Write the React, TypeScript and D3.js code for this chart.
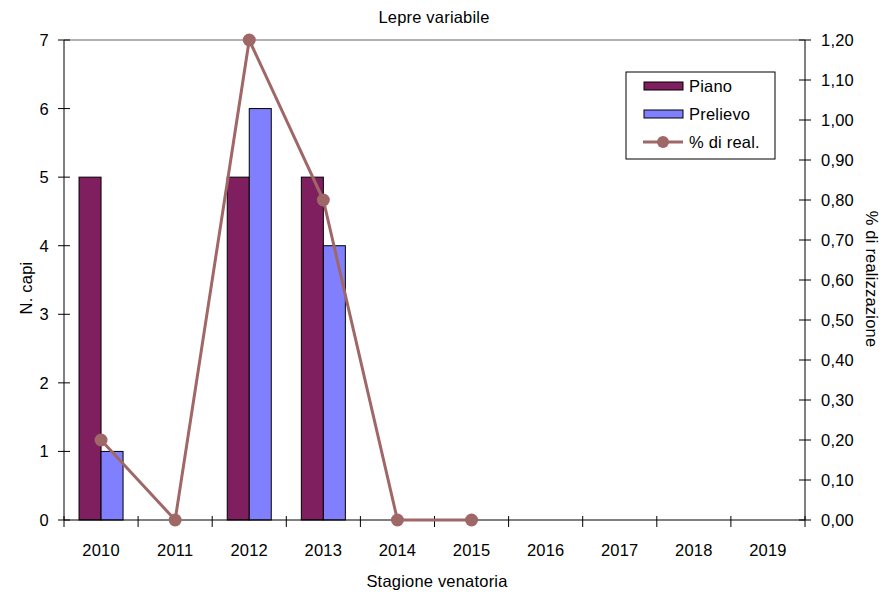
import React from "react";
import * as d3 from "d3";

const categories = ["2010", "2011", "2012", "2013", "2014", "2015", "2016", "2017", "2018", "2019"];
const piano: (number | null)[] = [5, 0, 5, 5, 0, 0, null, null, null, null];
const prelievo: (number | null)[] = [1, 0, 6, 4, 0, 0, null, null, null, null];
const realizzazione: (number | null)[] = [0.2, 0, 1.2, 0.8, 0, 0, null, null, null, null];
const leftTicks = [0, 1, 2, 3, 4, 5, 6, 7];
const rightTicks = [0, 0.1, 0.2, 0.3, 0.4, 0.5, 0.6, 0.7, 0.8, 0.9, 1.0, 1.1, 1.2];

const W = 892, H = 592;
const L = 64, R = 805, T = 40, B = 520;
const FONT = "'Liberation Sans', Arial, sans-serif";
const FS = 16.5;

export default function App() {
  const x = d3.scaleBand<string>().domain(categories).range([L, R]);
  const step = x.bandwidth();
  const barW = step * 0.297;
  const yL = d3.scaleLinear().domain([0, 7]).range([B, T]);
  const yR = d3.scaleLinear().domain([0, 1.2]).range([B, T]);
  const cx = (c: string) => (x(c) as number) + step / 2;

  const pts = categories
    .map((c, i) => ({ c, v: realizzazione[i] }))
    .filter((d) => d.v !== null) as { c: string; v: number }[];
  const line = d3
    .line<{ c: string; v: number }>()
    .x((d) => cx(d.c))
    .y((d) => yR(d.v));

  const lineColor = "#a06767";
  const pianoColor = "#801f5f";
  const prelColor = "#8080ff";

  return (
    <svg width={W} height={H} style={{ position: "absolute", left: 0, top: 0 }} fontFamily={FONT} letterSpacing={0.2}>
      <rect x={0} y={0} width={W} height={H} fill="#fff" />
      <text x={434} y={23} textAnchor="middle" fontSize={FS}>Lepre variabile</text>
      {/* top gridline */}
      <line x1={L} x2={R} y1={T} y2={T} stroke="#999" strokeWidth={1.5} />
      {/* bars */}
      {categories.map((c, i) => {
        const p = piano[i];
        const q = prelievo[i];
        const c0 = cx(c);
        return (
          <g key={c}>
            {p !== null && p > 0 && (
              <rect x={c0 - barW} y={yL(p)} width={barW} height={yL(0) - yL(p)} fill={pianoColor} stroke="#000" strokeWidth={1} />
            )}
            {q !== null && q > 0 && (
              <rect x={c0} y={yL(q)} width={barW} height={yL(0) - yL(q)} fill={prelColor} stroke="#000" strokeWidth={1} />
            )}
          </g>
        );
      })}
      {/* axes */}
      <line x1={L} x2={L} y1={T} y2={B} stroke="#000" strokeWidth={1} />
      <line x1={R} x2={R} y1={T} y2={B} stroke="#000" strokeWidth={1} />
      <line x1={L} x2={R} y1={B} y2={B} stroke="#000" strokeWidth={1} />
      {leftTicks.map((t) => (
        <g key={"l" + t}>
          <line x1={L - 6} x2={L + 6} y1={yL(t)} y2={yL(t)} stroke="#000" />
          <text x={49} y={yL(t) + 6} textAnchor="end" fontSize={FS}>{t}</text>
        </g>
      ))}
      {rightTicks.map((t) => (
        <g key={"r" + t}>
          <line x1={R - 6} x2={R + 6} y1={yR(t)} y2={yR(t)} stroke="#000" />
          <text x={821} y={yR(t) + 6} textAnchor="start" fontSize={FS}>{t.toFixed(2).replace(".", ",")}</text>
        </g>
      ))}
      {categories.map((c) => (
        <line key={"t" + c} x1={(x(c) as number)} x2={(x(c) as number)} y1={B - 4} y2={B + 7} stroke="#000" />
      ))}
      <line x1={R} x2={R} y1={B - 4} y2={B + 7} stroke="#000" />
      {categories.map((c) => (
        <text key={"c" + c} x={cx(c)} y={556} textAnchor="middle" fontSize={FS}>{c}</text>
      ))}
      {/* line series */}
      <path d={line(pts) || ""} fill="none" stroke={lineColor} strokeWidth={3} />
      {pts.map((d) => (
        <circle key={"p" + d.c} cx={cx(d.c)} cy={yR(d.v)} r={6.5} fill={lineColor} />
      ))}
      {/* axis titles */}
      <text x={437} y={587} textAnchor="middle" fontSize={FS}>Stagione venatoria</text>
      <text transform={`translate(32,288) rotate(-90)`} textAnchor="middle" fontSize={FS}>N. capi</text>
      <text transform={`translate(866,279) rotate(90)`} textAnchor="middle" fontSize={FS}>% di realizzazione</text>
      {/* legend */}
      <rect x={626} y={72} width={149} height={87} fill="#fff" stroke="#000" strokeWidth={1} />
      <rect x={644} y={82} width={39} height={8} fill={pianoColor} stroke="#000" />
      <text x={689} y={92} fontSize={FS}>Piano</text>
      <rect x={644} y={110} width={39} height={8} fill={prelColor} stroke="#000" />
      <text x={689} y={120} fontSize={FS}>Prelievo</text>
      <line x1={643} x2={683} y1={142} y2={142} stroke={lineColor} strokeWidth={3} />
      <circle cx={663} cy={142} r={6} fill={lineColor} />
      <text x={689} y={148} fontSize={FS}>% di real.</text>
    </svg>
  );
}
